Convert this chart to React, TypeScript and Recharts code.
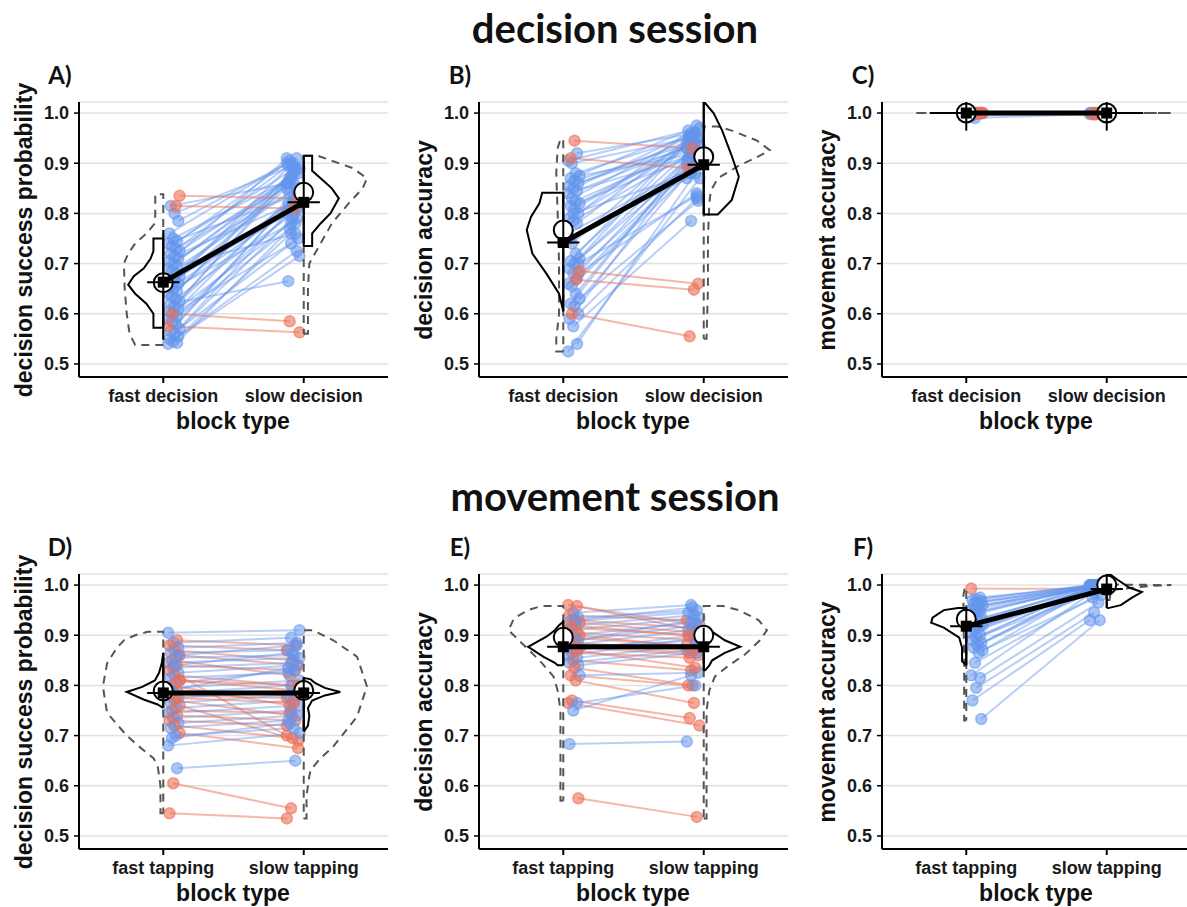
import React from 'react'
import { ComposedChart, Scatter, XAxis, YAxis, CartesianGrid, ReferenceLine } from 'recharts'

const FONT = '"Liberation Sans", Arial, sans-serif'
const TITLE_FONT = 'Lato, "Open Sans", sans-serif'
const BLUE = 'rgba(100,149,237,0.45)'
const BLUE_DOT = 'rgba(100,149,237,0.55)'
const RED = 'rgba(236,112,86,0.5)'
const RED_DOT = 'rgba(236,112,86,0.6)'

const decisionCats = ['fast decision', 'slow decision']
const tappingCats = ['fast tapping', 'slow tapping']
const yTicks = [0.5, 0.6, 0.7, 0.8, 0.9, 1.0]

// per-subject values, fast block vs slow block
const fastA = [0.54, 0.542, 0.545, 0.55, 0.555, 0.56, 0.565, 0.57, 0.58, 0.585, 0.59, 0.595, 0.6, 0.605, 0.61, 0.615, 0.62, 0.625, 0.63, 0.635, 0.64, 0.645, 0.65, 0.655, 0.66, 0.665, 0.67, 0.675, 0.68, 0.685, 0.69, 0.695, 0.7, 0.705, 0.71, 0.715, 0.72, 0.725, 0.73, 0.735, 0.74, 0.745, 0.75, 0.76, 0.785, 0.8, 0.815, 0.835, 0.815, 0.6, 0.575]
const slowA = [0.715, 0.78, 0.76, 0.8, 0.725, 0.79, 0.82, 0.75, 0.83, 0.77, 0.85, 0.81, 0.74, 0.86, 0.79, 0.88, 0.665, 0.84, 0.8, 0.87, 0.82, 0.89, 0.78, 0.85, 0.83, 0.9, 0.86, 0.81, 0.88, 0.84, 0.89, 0.76, 0.87, 0.91, 0.85, 0.82, 0.895, 0.88, 0.86, 0.905, 0.84, 0.89, 0.87, 0.9, 0.91, 0.895, 0.86, 0.83, 0.81, 0.585, 0.563]

const fastB = [0.525, 0.54, 0.575, 0.59, 0.6, 0.615, 0.62, 0.63, 0.64, 0.655, 0.66, 0.67, 0.68, 0.69, 0.7, 0.7, 0.705, 0.71, 0.72, 0.74, 0.76, 0.78, 0.785, 0.79, 0.8, 0.81, 0.815, 0.82, 0.825, 0.83, 0.84, 0.845, 0.85, 0.855, 0.86, 0.865, 0.87, 0.875, 0.88, 0.9, 0.905, 0.92, 0.8, 0.75, 0.68, 0.945, 0.91, 0.685, 0.668, 0.6]
const slowB = [0.87, 0.88, 0.785, 0.9, 0.83, 0.89, 0.91, 0.825, 0.92, 0.88, 0.935, 0.9, 0.89, 0.94, 0.835, 0.92, 0.95, 0.91, 0.93, 0.945, 0.9, 0.96, 0.92, 0.93, 0.975, 0.94, 0.91, 0.95, 0.93, 0.955, 0.92, 0.94, 0.96, 0.93, 0.95, 0.94, 0.965, 0.92, 0.955, 0.95, 0.97, 0.96, 0.88, 0.87, 0.84, 0.93, 0.89, 0.66, 0.648, 0.555]

const fastC = [1, 1, 1, 1, 1, 0.999, 0.998, 1, 1, 0.99, 1, 0.999, 1, 0.995, 1, 1, 0.998, 1, 1, 1]
const slowC = [1, 0.999, 1, 0.998, 1, 1, 1, 0.999, 1, 0.998, 1, 1, 0.997, 1, 1, 0.999, 1, 1, 0.998, 1]

const fastD = [0.905, 0.89, 0.885, 0.88, 0.875, 0.87, 0.865, 0.86, 0.855, 0.85, 0.845, 0.84, 0.835, 0.83, 0.825, 0.82, 0.815, 0.81, 0.805, 0.8, 0.795, 0.79, 0.785, 0.78, 0.775, 0.77, 0.765, 0.76, 0.755, 0.75, 0.745, 0.74, 0.735, 0.73, 0.725, 0.72, 0.715, 0.705, 0.7, 0.695, 0.68, 0.635, 0.605, 0.545, 0.86, 0.84, 0.79, 0.81, 0.775]
const slowD = [0.91, 0.88, 0.895, 0.87, 0.885, 0.85, 0.87, 0.84, 0.86, 0.82, 0.855, 0.83, 0.845, 0.7, 0.84, 0.8, 0.825, 0.79, 0.83, 0.76, 0.81, 0.78, 0.8, 0.775, 0.79, 0.74, 0.78, 0.69, 0.77, 0.745, 0.76, 0.73, 0.75, 0.72, 0.74, 0.695, 0.73, 0.675, 0.715, 0.725, 0.705, 0.65, 0.555, 0.535, 0.88, 0.865, 0.835, 0.8, 0.765]

const fastE = [0.96, 0.958, 0.945, 0.94, 0.935, 0.93, 0.928, 0.925, 0.92, 0.915, 0.91, 0.905, 0.9, 0.895, 0.89, 0.885, 0.88, 0.875, 0.87, 0.865, 0.86, 0.855, 0.85, 0.845, 0.84, 0.835, 0.82, 0.82, 0.81, 0.77, 0.765, 0.765, 0.75, 0.683, 0.575, 0.93, 0.92, 0.9, 0.89, 0.88, 0.875, 0.87]
const slowE = [0.92, 0.91, 0.96, 0.93, 0.95, 0.915, 0.945, 0.905, 0.94, 0.9, 0.935, 0.89, 0.925, 0.88, 0.92, 0.87, 0.91, 0.86, 0.9, 0.855, 0.895, 0.88, 0.83, 0.87, 0.865, 0.8, 0.8, 0.825, 0.765, 0.735, 0.72, 0.8, 0.82, 0.688, 0.538, 0.955, 0.9, 0.875, 0.93, 0.865, 0.89, 0.835]

const fastF = [0.993, 0.975, 0.972, 0.97, 0.968, 0.965, 0.962, 0.96, 0.958, 0.955, 0.95, 0.948, 0.945, 0.94, 0.935, 0.93, 0.925, 0.92, 0.915, 0.91, 0.905, 0.9, 0.895, 0.89, 0.885, 0.88, 0.875, 0.87, 0.865, 0.845, 0.82, 0.815, 0.795, 0.77, 0.733]
const slowF = [0.992, 1, 0.999, 1, 0.998, 1, 0.999, 1, 0.997, 1, 0.999, 1, 0.998, 1, 0.996, 1, 0.999, 0.998, 1, 0.995, 0.999, 1, 0.985, 0.998, 1, 0.99, 0.997, 0.98, 1, 0.975, 0.999, 0.965, 0.945, 0.93, 0.93]

// half-violin densities: [value, half width]
const solidFastA = [[0.572, 0.07], [0.6, 0.07], [0.62, 0.12], [0.64, 0.2], [0.658, 0.25], [0.675, 0.21], [0.69, 0.14], [0.71, 0.09], [0.725, 0.07], [0.75, 0.07]]
const dashFastA = [[0.538, 0.2], [0.56, 0.24], [0.6, 0.26], [0.65, 0.275], [0.7, 0.28], [0.72, 0.25], [0.74, 0.2], [0.76, 0.12], [0.78, 0.06], [0.8, 0.057], [0.838, 0.057]]
const solidSlowA = [[0.735, 0.06], [0.76, 0.06], [0.78, 0.12], [0.8, 0.19], [0.83, 0.25], [0.85, 0.2], [0.87, 0.12], [0.885, 0.06], [0.9, 0.06], [0.915, 0.06]]
const dashSlowA = [[0.56, 0.03], [0.65, 0.03], [0.7, 0.04], [0.74, 0.12], [0.78, 0.2], [0.82, 0.32], [0.85, 0.42], [0.87, 0.45], [0.89, 0.35], [0.905, 0.2], [0.915, 0.1]]

const solidFastB = [[0.605, 0], [0.64, 0.03], [0.68, 0.12], [0.72, 0.22], [0.767, 0.26], [0.793, 0.23], [0.82, 0.17], [0.841, 0.15]]
const dashFastB = [[0.525, 0.05], [0.55, 0.05], [0.6, 0.03], [0.7, 0.03], [0.8, 0.04], [0.88, 0.05], [0.93, 0.04], [0.948, 0.02]]
const solidSlowB = [[0.798, 0.1], [0.827, 0.2], [0.873, 0.25], [0.914, 0.2], [0.966, 0.13], [1.0, 0.07], [1.02, 0.01]]
const dashSlowB = [[0.55, 0.02], [0.65, 0.03], [0.75, 0.03], [0.82, 0.04], [0.845, 0.05], [0.87, 0.1], [0.895, 0.25], [0.915, 0.4], [0.926, 0.47], [0.945, 0.38], [0.965, 0.2], [0.973, 0.1]]

const solidFastC = [[1.0, 0.26]]
const dashFastC = [[1.0, 0.37]]
const solidSlowC = [[1.0, 0.26]]
const dashSlowC = [[1.0, 0.46]]

const solidFastD = [[0.755, 0], [0.762, 0.04], [0.772, 0.14], [0.787, 0.26], [0.797, 0.15], [0.81, 0.06], [0.825, 0.03], [0.845, 0.01], [0.865, 0]]
const dashFastD = [[0.545, 0.02], [0.6, 0.02], [0.64, 0.04], [0.655, 0.07], [0.68, 0.18], [0.7, 0.26], [0.745, 0.4], [0.798, 0.43], [0.844, 0.4], [0.875, 0.33], [0.89, 0.28], [0.9, 0.2], [0.907, 0.11]]
const solidSlowD = [[0.708, 0], [0.72, 0.03], [0.74, 0.04], [0.755, 0.03], [0.77, 0.06], [0.78, 0.15], [0.787, 0.26], [0.795, 0.15], [0.805, 0.08], [0.812, 0.05], [0.815, 0]]
const dashSlowD = [[0.535, 0.02], [0.58, 0.02], [0.62, 0.04], [0.632, 0.05], [0.655, 0.12], [0.678, 0.21], [0.738, 0.38], [0.798, 0.45], [0.857, 0.38], [0.89, 0.21], [0.905, 0.1], [0.91, 0.07]]

const solidFastE = [[0.84, 0.04], [0.845, 0.06], [0.857, 0.14], [0.877, 0.25], [0.897, 0.12], [0.91, 0.06], [0.92, 0.03], [0.927, 0]]
const dashFastE = [[0.57, 0.02], [0.65, 0.02], [0.75, 0.02], [0.79, 0.04], [0.818, 0.07], [0.85, 0.17], [0.88, 0.28], [0.91, 0.39], [0.934, 0.35], [0.95, 0.25], [0.958, 0.16]]
const solidSlowE = [[0.83, 0.01], [0.84, 0.04], [0.85, 0.06], [0.865, 0.15], [0.877, 0.26], [0.89, 0.15], [0.905, 0.07], [0.917, 0]]
const dashSlowE = [[0.535, 0.02], [0.65, 0.02], [0.75, 0.02], [0.79, 0.04], [0.818, 0.08], [0.84, 0.18], [0.863, 0.3], [0.89, 0.4], [0.91, 0.45], [0.93, 0.39], [0.95, 0.25], [0.958, 0.14]]

const solidFastF = [[0.84, 0], [0.848, 0.03], [0.875, 0.03], [0.895, 0.05], [0.915, 0.16], [0.925, 0.25], [0.935, 0.24], [0.95, 0.16], [0.954, 0.06]]
const dashFastF = [[0.73, 0.015], [0.85, 0.015], [0.95, 0.02], [0.98, 0.02], [0.995, 0.01]]
const solidSlowF = [[0.954, 0.01], [0.96, 0.1], [0.975, 0.18], [0.986, 0.25], [0.995, 0.16], [1.01, 0.08], [1.022, 0.02]]
const dashSlowF = [[0.97, 0.02], [0.99, 0.03], [0.998, 0.3], [1.0, 0.46], [1.001, 0.02]]

// summary: [fast, slow]
const meanA = [0.662, 0.842], medianA = [0.663, 0.822], ciA = [[0.548, 0.767], [0.74, 0.915]]
const meanB = [0.767, 0.913], medianB = [0.742, 0.897], ciB = [[0.605, 0.842], [0.798, 1.03]]
const meanC = [1.0, 1.0], medianC = [1.0, 1.0], ciC = [[0.965, 1.035], [0.965, 1.035]]
const meanD = [0.789, 0.79], medianD = [0.785, 0.785], ciD = [[0.755, 0.865], [0.71, 0.815]]
const meanE = [0.896, 0.9], medianE = [0.877, 0.877], ciE = [[0.84, 0.93], [0.83, 0.915]]
const meanF = [0.932, 1.0], medianF = [0.918, 0.992], ciF = [[0.84, 0.955], [0.955, 1.03]]

const panels = [
  { id: 'A)', left: 0, top: 60, cats: decisionCats, yTitle: 'decision success probability', fast: fastA, slow: slowA, violins: [solidFastA, dashFastA, solidSlowA, dashSlowA], mean: meanA, median: medianA, ci: ciA },
  { id: 'B)', left: 400, top: 60, cats: decisionCats, yTitle: 'decision accuracy', fast: fastB, slow: slowB, violins: [solidFastB, dashFastB, solidSlowB, dashSlowB], mean: meanB, median: medianB, ci: ciB },
  { id: 'C)', left: 803, top: 60, cats: decisionCats, yTitle: 'movement accuracy', fast: fastC, slow: slowC, violins: [solidFastC, dashFastC, solidSlowC, dashSlowC], mean: meanC, median: medianC, ci: ciC },
  { id: 'D)', left: 0, top: 532, cats: tappingCats, yTitle: 'decision success probability', fast: fastD, slow: slowD, violins: [solidFastD, dashFastD, solidSlowD, dashSlowD], mean: meanD, median: medianD, ci: ciD },
  { id: 'E)', left: 400, top: 532, cats: tappingCats, yTitle: 'decision accuracy', fast: fastE, slow: slowE, violins: [solidFastE, dashFastE, solidSlowE, dashSlowE], mean: meanE, median: medianE, ci: ciE },
  { id: 'F)', left: 803, top: 532, cats: tappingCats, yTitle: 'movement accuracy', fast: fastF, slow: slowF, violins: [solidFastF, dashFastF, solidSlowF, dashSlowF], mean: meanF, median: medianF, ci: ciF },
]

const W = 395
const H = 380
const YW = 79

function halfViolin(center: number, side: number, dens: number[][]) {
  const pts = [{ x: center, y: dens[0][0] }]
  dens.forEach(([y, w]) => pts.push({ x: center + side * w, y }))
  pts.push({ x: center, y: dens[dens.length - 1][0] })
  pts.push({ x: center, y: dens[0][0] })
  return pts
}

const Empty = () => <g />

const Dot = (p: any) => (
  <circle cx={p.cx} cy={p.cy} r={5.5} fill={p.payload.up ? BLUE_DOT : RED_DOT} stroke={p.payload.up ? BLUE_DOT : RED_DOT} strokeWidth={1.5} />
)
const MeanCircle = (p: any) => (
  <circle cx={p.cx} cy={p.cy} r={9.5} fill="#fff" stroke="#000" strokeWidth={2} />
)
const MedianSquare = (p: any) => (
  <rect x={p.cx - 5.5} y={p.cy - 5.5} width={11} height={11} fill="#000" />
)

function Panel({ p }: { p: any }) {
  const subj = p.fast.map((f: number, i: number) => ({
    f, s: p.slow[i], up: p.slow[i] > f,
    fx: 1.035 + ((i * 7) % 10) * 0.009,
    sx: 1.97 - ((i * 3) % 10) * 0.01,
  }))
  const dots = [
    ...subj.map((d: any) => ({ x: d.fx, y: d.f, up: d.up })),
    ...subj.map((d: any) => ({ x: d.sx, y: d.s, up: d.up })),
  ]
  const [sf, df, ss, ds] = p.violins
  const solid = { stroke: '#000', strokeWidth: 2, fill: 'none' }
  const dashed = { stroke: '#555', strokeWidth: 2, strokeDasharray: '8 6', fill: 'none' }
  const line = (pts: any[], style: any, k: string) => (
    <Scatter key={k} data={pts} line={style} shape={Empty} fill="none" isAnimationActive={false} />
  )
  const cb = 0.115
  return (
    <div style={{ position: 'absolute', left: p.left, top: p.top }}>
      <ComposedChart width={W} height={H} margin={{ top: 42, right: 7, bottom: 0, left: 0 }}>
        <CartesianGrid vertical={false} stroke="#e2e2e2" strokeWidth={1.5} />
        <XAxis type="number" dataKey="x" domain={[0.4, 2.6]} ticks={[1, 2]} allowDataOverflow interval={0}
          tickFormatter={(v: number) => (v === 1 ? p.cats[0] : p.cats[1])}
          axisLine={{ stroke: '#000', strokeWidth: 2 }} tickLine={{ stroke: '#000', strokeWidth: 2 }}
          tickSize={6} tickMargin={6} height={63}
          tick={{ fill: '#1a1a1a', fontSize: 18, fontWeight: 'bold', fontFamily: FONT }} />
        <YAxis type="number" dataKey="y" domain={[0.474, 1.022]} ticks={yTicks} allowDataOverflow width={YW} interval={0}
          tickFormatter={(v: number) => v.toFixed(1)}
          axisLine={{ stroke: '#000', strokeWidth: 2 }} tickLine={{ stroke: '#000', strokeWidth: 1.5 }}
          tickSize={5} tickMargin={5}
          tick={{ fill: '#1a1a1a', fontSize: 18, fontWeight: 'bold', fontFamily: FONT }} />
        {subj.map((d: any, i: number) => (
          <ReferenceLine key={'l' + i} segment={[{ x: d.fx, y: d.f }, { x: d.sx, y: d.s }]}
            stroke={d.up ? BLUE : RED} strokeWidth={2} ifOverflow="visible" zIndex={50} />
        ))}
        <Scatter data={dots} shape={Dot} isAnimationActive={false} />
        {line(halfViolin(1, -1, df), dashed, 'df')}
        {line(halfViolin(2, 1, ds), dashed, 'ds')}
        {line(halfViolin(1, -1, sf), solid, 'sf')}
        {line(halfViolin(2, 1, ss), solid, 'ss')}
        <Scatter data={[{ x: 1, y: p.mean[0] }, { x: 2, y: p.mean[1] }]} shape={MeanCircle} isAnimationActive={false} />
        {line([{ x: 1, y: p.median[0] }, { x: 2, y: p.median[1] }], { stroke: '#000', strokeWidth: 5, fill: 'none' }, 'mid')}
        {line([{ x: 1, y: p.ci[0][0] }, { x: 1, y: p.ci[0][1] }], solid, 'cif')}
        {line([{ x: 2, y: p.ci[1][0] }, { x: 2, y: p.ci[1][1] }], solid, 'cis')}
        {line([{ x: 1 - cb, y: p.median[0] }, { x: 1 + cb, y: p.median[0] }], solid, 'cbf')}
        {line([{ x: 2 - cb, y: p.median[1] }, { x: 2 + cb, y: p.median[1] }], solid, 'cbs')}
        <Scatter data={[{ x: 1, y: p.median[0] }, { x: 2, y: p.median[1] }]} shape={MedianSquare} isAnimationActive={false} />
      </ComposedChart>
    </div>
  )
}

const Txt = ({ x, y, size, family, rotate, children }: any) => (
  <div style={{
    position: 'absolute', left: x, top: y, transform: `translate(-50%,-50%)${rotate ? ' rotate(-90deg)' : ''}`,
    fontSize: size, fontWeight: 'bold', fontFamily: family, whiteSpace: 'nowrap', lineHeight: 1, color: '#111',
  }}>{children}</div>
)

export default function App() {
  return (
    <div style={{ position: 'relative', width: 1187, height: 907, overflow: 'hidden', background: '#fff' }}>
      <style>{'body{margin:0;overflow:hidden}'}</style>
      <Txt x={615} y={28} size={40} family={TITLE_FONT}>decision session</Txt>
      <Txt x={615} y={496} size={40} family={TITLE_FONT}>movement session</Txt>
      {panels.map((p) => (
        <React.Fragment key={p.id}>
          <Panel p={p} />
          <Txt x={p.left + 60} y={p.top + 15} size={24} family={TITLE_FONT}>{p.id}</Txt>
          <Txt x={p.left + 24} y={p.top + 180} size={23} family={FONT} rotate>{p.yTitle}</Txt>
          <Txt x={p.left + 233} y={p.top + 361} size={23} family={FONT}>block type</Txt>
        </React.Fragment>
      ))}
    </div>
  )
}
